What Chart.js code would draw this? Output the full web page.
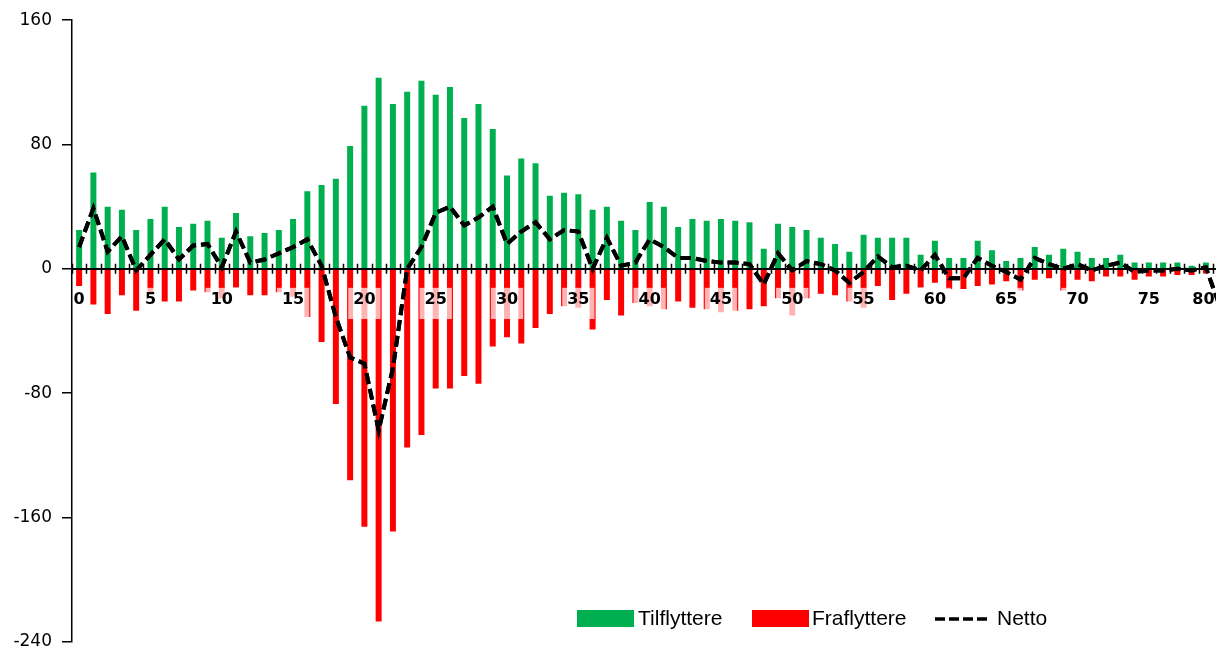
<!DOCTYPE html>
<html>
<head>
<meta charset="utf-8">
<script src="https://cdn.jsdelivr.net/npm/chart.js@4/dist/chart.umd.min.js"></script>
<style>
  html, body { margin: 0; padding: 0; background: #fff; overflow: hidden; }
  #wrap { width: 1248px; height: 662px; }
</style>
</head>
<body>
<div id="wrap"><canvas id="chart" width="1248" height="662"></canvas></div>
<script>
// alder 0-80
const ages = [
  0, 1, 2, 3, 4, 5, 6, 7, 8, 9,
  10, 11, 12, 13, 14, 15, 16, 17, 18, 19,
  20, 21, 22, 23, 24, 25, 26, 27, 28, 29,
  30, 31, 32, 33, 34, 35, 36, 37, 38, 39,
  40, 41, 42, 43, 44, 45, 46, 47, 48, 49,
  50, 51, 52, 53, 54, 55, 56, 57, 58, 59,
  60, 61, 62, 63, 64, 65, 66, 67, 68, 69,
  70, 71, 72, 73, 74, 75, 76, 77, 78, 79,
  80
];

const tilflyttere = [
  25, 62, 40, 38, 25, 32, 40, 27, 29, 31,
  20, 36, 21, 23, 25, 32, 50, 54, 58, 79,
  105, 123, 106, 114, 121, 112, 117, 97, 106, 90,
  60, 71, 68, 47, 49, 48, 38, 40, 31, 25,
  43, 40, 27, 32, 31, 32, 31, 30, 13, 29,
  27, 25, 20, 16, 11, 22, 20, 20, 20, 9,
  18, 7, 7, 18, 12, 5, 7, 14, 9, 13,
  11, 7, 7, 9, 4, 4, 4, 4, 2, 4,
  3
];

const fraflyttere = [
  -11, -23, -29, -17, -27, -15, -21, -21, -14, -15,
  -19, -12, -17, -17, -15, -18, -31, -47, -87, -136,
  -166, -227, -169, -115, -107, -77, -77, -69, -74, -50,
  -44, -48, -38, -29, -24, -25, -39, -20, -30, -22,
  -24, -26, -21, -25, -26, -28, -27, -26, -24, -19,
  -30, -19, -16, -17, -21, -25, -11, -20, -16, -12,
  -9, -13, -13, -11, -10, -8, -14, -7, -6, -14,
  -7, -8, -5, -5, -7, -5, -5, -4, -4, -3,
  -28
];

const netto = [
  14, 39, 11, 21, -1, 9, 19, 6, 15, 16,
  1, 24, 4, 6, 10, 14, 19, 2, -31, -57,
  -61, -104, -64, 0, 14, 36, 40, 28, 33, 40,
  16, 24, 30, 19, 25, 24, 0, 20, 2, 4,
  19, 14, 7, 7, 5, 4, 4, 3, -10, 10,
  -1, 5, 3, -1, -9, -2, 8, 1, 2, -1,
  9, -6, -6, 7, 2, -2, -7, 7, 3, 0,
  3, -1, 2, 4, -2, -1, -1, 0, -1, 1,
  -25
];

const yTicks = [-240, -160, -80, 0, 80, 160];

const GREEN = '#00B050';
const RED = '#FF0000';

// small tick marks crossing the zero line, one at each category border
const crossTicks = {
  id: 'crossTicks',
  afterDraw(chart) {
    const x = chart.scales.x;
    const y0 = chart.scales.y.getPixelForValue(0);
    const step = x.getPixelForValue(1) - x.getPixelForValue(0);
    const ctx = chart.ctx;
    ctx.save();
    ctx.strokeStyle = '#000';
    ctx.lineWidth = 1.5;
    ctx.beginPath();
    for (let i = 0; i <= ages.length; i++) {
      const px = Math.round(x.getPixelForValue(0) - step / 2 + i * step) + 0.5;
      ctx.moveTo(px, y0 - 5);
      ctx.lineTo(px, y0 + 5);
    }
    ctx.stroke();
    ctx.restore();
    // draw the netto line again so it sits on top of the axis labels
    chart.getDatasetMeta(2).controller.draw();
  }
};

// legend sits inside the plot, lower right
const legendInside = {
  id: 'legendInside',
  afterDraw(chart) {
    const ctx = chart.ctx;
    const ds = chart.data.datasets;
    ctx.save();
    ctx.font = '21px "Liberation Sans", Arial, sans-serif';
    ctx.textBaseline = 'middle';

    ctx.fillStyle = ds[0].backgroundColor;
    ctx.fillRect(577, 610, 57, 17);
    ctx.fillStyle = '#000';
    ctx.fillText(ds[0].label, 638, 619);

    ctx.fillStyle = ds[1].backgroundColor;
    ctx.fillRect(752, 610, 57, 17);
    ctx.fillStyle = '#000';
    ctx.fillText(ds[1].label, 812, 619);

    ctx.strokeStyle = ds[2].borderColor;
    ctx.lineWidth = 3.5;
    ctx.setLineDash([10, 4]);
    ctx.beginPath();
    ctx.moveTo(935, 619);
    ctx.lineTo(987, 619);
    ctx.stroke();
    ctx.setLineDash([]);
    ctx.fillText(ds[2].label, 997, 619);
    ctx.restore();
  }
};

new Chart(document.getElementById('chart'), {
  type: 'bar',
  data: {
    labels: ages,
    datasets: [
      {
        label: 'Tilflyttere',
        data: tilflyttere,
        backgroundColor: GREEN,
        grouped: false,
        categoryPercentage: 1,
        barPercentage: 0.42,
        order: 2
      },
      {
        label: 'Fraflyttere',
        data: fraflyttere,
        backgroundColor: RED,
        grouped: false,
        categoryPercentage: 1,
        barPercentage: 0.42,
        order: 2
      },
      {
        type: 'line',
        label: 'Netto',
        data: netto,
        borderColor: '#000',
        borderWidth: 4,
        borderDash: [11, 5],
        pointRadius: 0,
        tension: 0,
        fill: false,
        order: 1
      }
    ]
  },
  plugins: [crossTicks, legendInside],
  options: {
    responsive: false,
    animation: false,
    devicePixelRatio: 1,
    layout: {
      padding: { top: 20, bottom: 0, left: 0, right: 0 }
    },
    plugins: {
      legend: { display: false },
      tooltip: { enabled: false }
    },
    scales: {
      x: {
        type: 'category',
        position: { y: 0 },
        offset: true,
        // invisible tick marks only push the labels down below the zero line
        grid: {
          display: true,
          drawOnChartArea: false,
          drawTicks: true,
          tickLength: 21,
          color: 'rgba(0,0,0,0)'
        },
        border: { display: true, color: '#000', width: 2, z: 1 },
        ticks: {
          z: 1,
          autoSkip: false,
          maxRotation: 0,
          padding: 0,
          color: '#000',
          font: { family: '"DejaVu Sans", Verdana, sans-serif', size: 16, weight: 'bold' },
          callback: (v, i) => {
            if (i % 5 !== 0) return '';
            // last label is pushed left so it stays inside the picture
            return i === ages.length - 1 ? ages[i] + '\u00a0'.repeat(6) : String(ages[i]);
          },
          showLabelBackdrop: (c) => c.index % 5 === 0,
          backdropColor: 'rgba(255,255,255,0.7)',
          backdropPadding: { top: 2, bottom: 10, left: 5, right: 5 }
        }
      },
      y: {
        min: yTicks[0],
        max: yTicks[yTicks.length - 1],
        afterFit: (s) => { s.width = 72; },
        afterBuildTicks: (s) => { s.ticks = yTicks.map(v => ({ value: v })); },
        grid: {
          display: true,
          drawOnChartArea: false,
          drawTicks: true,
          tickLength: 10,
          color: '#000',
          lineWidth: 1.5
        },
        border: { display: true, color: '#000', width: 1.5, z: 2 },
        ticks: {
          padding: 10,
          color: '#000',
          font: { family: '"DejaVu Sans", Verdana, sans-serif', size: 17 }
        }
      }
    }
  }
});
</script>
</body>
</html>
